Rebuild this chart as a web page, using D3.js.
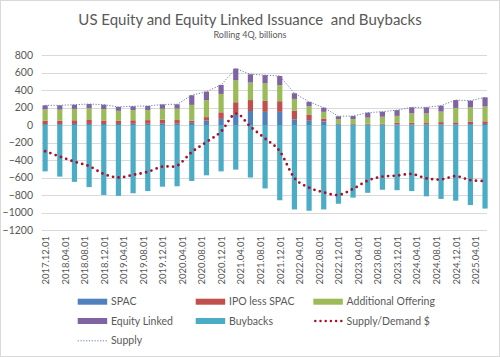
<!DOCTYPE html>
<html><head><meta charset="utf-8">
<script src="https://cdn.jsdelivr.net/npm/d3@7"></script>
<style>
html,body{margin:0;padding:0;background:#fff;}
svg{display:block;font-family:Lato, "Open Sans", sans-serif;}
</style></head>
<body><svg id="c" width="500" height="357"></svg>
<script>
// quarter-end months (rolling 4Q), Dec 2017 .. Jun 2025
const periods = ["2017-12","2018-03","2018-06","2018-09","2018-12","2019-03","2019-06","2019-09","2019-12","2020-03","2020-06","2020-09","2020-12","2021-03","2021-06","2021-09","2021-12","2022-03","2022-06","2022-09","2022-12","2023-03","2023-06","2023-09","2023-12","2024-03","2024-06","2024-09","2024-12","2025-03","2025-06"];
const spac       = [10,10,12,12,12,12,14,14,15,15,25,50,70,125,160,150,150,65,55,40,8,4,4,4,6,5,4,8,8,10,12];
const ipoLessSpac= [38,40,42,45,40,35,40,42,45,42,25,40,75,135,125,125,122,100,65,30,10,8,10,12,20,22,18,25,22,30,30];
const additional = [130,125,130,135,130,115,115,115,125,130,180,195,210,250,200,200,185,133,95,80,50,55,70,78,78,105,110,120,165,160,170];
const equityLinked=[47,50,48,48,50,45,45,47,50,50,110,96,103,135,95,95,103,65,50,48,32,36,57,58,66,70,70,68,90,78,104];
const buybacks   = [-530,-590,-650,-710,-800,-810,-780,-755,-705,-700,-640,-575,-530,-510,-600,-725,-860,-965,-980,-965,-900,-830,-775,-740,-745,-755,-815,-845,-865,-915,-955];
const supply     = [225,225,232,240,232,207,214,218,235,237,340,381,458,645,580,570,560,363,265,198,100,103,141,152,170,202,202,221,285,278,316];
const supplyDemand=[-300,-360,-420,-470,-560,-600,-570,-535,-475,-465,-310,-195,-75,130,-20,-155,-300,-605,-715,-770,-800,-730,-635,-590,-578,-560,-610,-622,-585,-630,-640];
const tickLabels = ["2017.12.01","2018.04.01","2018.08.01","2018.12.01","2019.04.01","2019.08.01","2019.12.01","2020.04.01","2020.08.01","2020.12.01","2021.04.01","2021.08.01","2021.12.01","2022.04.01","2022.08.01","2022.12.01","2023.04.01","2023.08.01","2023.12.01","2024.04.01","2024.08.01","2024.12.01","2025.04.01"];
const yTicks = [800,600,400,200,0,-200,-400,-600,-800,-1000,-1200];

const keys = ["SPAC","IPO less SPAC","Additional Offering","Equity Linked","Buybacks"];
const colors = {"SPAC":"#4f81bd","IPO less SPAC":"#c0504d","Additional Offering":"#9bbb59","Equity Linked":"#8064a2","Buybacks":"#4bacc6"};
const textCol = "#595959";

const monthIdx = s => { const [y,m] = s.split(/[-.]/).map(Number); return (y-2017)*12 + (m-12); };
const rows = periods.map((p,i)=>({m:monthIdx(p),"SPAC":spac[i],"IPO less SPAC":ipoLessSpac[i],"Additional Offering":additional[i],"Equity Linked":equityLinked[i],"Buybacks":buybacks[i],supply:supply[i],sd:supplyDemand[i]}));

const svg = d3.select("#c");
svg.append("rect").attr("x",0.5).attr("y",0.5).attr("width",499).attr("height",356).attr("fill","#fff").attr("stroke","#d9d9d9");

const x = d3.scaleLinear().domain([-0.7,90.4]).range([41.7,487]);
const y = d3.scaleLinear().domain([-1200,800]).range([230,55]);

// title
svg.append("text").attr("x",250).attr("y",25).attr("text-anchor","middle").attr("fill",textCol)
  .style("font-size","15px").style("white-space","pre").text("US Equity and Equity Linked Issuance  and Buybacks");
svg.append("text").attr("x",250).attr("y",37.5).attr("text-anchor","middle").attr("fill",textCol)
  .style("font-size","9px").text("Rolling 4Q, billions");

// gridlines
svg.append("g").selectAll("line").data(yTicks).join("line")
  .attr("x1",41.7).attr("x2",487).attr("y1",d=>Math.round(y(d))+0.5).attr("y2",d=>Math.round(y(d))+0.5)
  .attr("stroke","#d9d9d9").attr("stroke-width",1);

// y axis labels
const yAxis = d3.axisLeft(y).tickValues(yTicks).tickSize(0).tickPadding(0).tickFormat(d3.format("d"));
const gy = svg.append("g").attr("transform","translate(33,0)").call(yAxis);
gy.select(".domain").remove();
gy.selectAll("text").attr("fill",textCol).style("font-size","10.5px").style("font-family","Lato, sans-serif");

// bars
const stack = d3.stack().keys(keys).offset(d3.stackOffsetDiverging);
const series = stack(rows);
const bw = 5.2;
svg.append("g").selectAll("g").data(series).join("g").attr("fill",s=>colors[s.key])
  .selectAll("rect").data(s=>s).join("rect")
  .attr("x",d=>x(d.data.m)-bw/2).attr("width",bw)
  .attr("y",d=>y(Math.max(d[0],d[1]))).attr("height",d=>Math.abs(y(d[0])-y(d[1])));

// supply line
svg.append("path").datum(rows).attr("fill","none").attr("stroke","#6f7fae").attr("stroke-width",1)
  .attr("stroke-dasharray","1.2,1.6")
  .attr("d",d3.line().x(d=>x(d.m)).y(d=>y(d.supply)));

// supply/demand line
svg.append("path").datum(rows).attr("fill","none").attr("stroke","#a8102a").attr("stroke-width",2.8)
  .attr("stroke-linecap","round").attr("stroke-dasharray","0,5.6")
  .attr("d",d3.line().curve(d3.curveCatmullRom.alpha(0)).x(d=>x(d.m)).y(d=>y(d.sd)));

// x axis labels (every 4 months)
const xAxis = d3.axisBottom(x).tickValues(tickLabels.map(monthIdx)).tickSize(0).tickPadding(0)
  .tickFormat((d,i)=>tickLabels[i]);
const gx = svg.append("g").attr("transform","translate(0,236)").call(xAxis);
gx.select(".domain").remove();
gx.selectAll("text").attr("fill",textCol).style("font-size","9.5px").style("font-family","Lato, sans-serif")
  .attr("transform","rotate(-90)").attr("text-anchor","end").attr("x",0).attr("y",0).attr("dy","0.35em");

// legend
const legendItems = [
  {name:"SPAC",type:"bar",col:0,row:0},{name:"IPO less SPAC",type:"bar",col:1,row:0},{name:"Additional Offering",type:"bar",col:2,row:0},
  {name:"Equity Linked",type:"bar",col:0,row:1},{name:"Buybacks",type:"bar",col:1,row:1},{name:"Supply/Demand $",type:"sd",col:2,row:1},
  {name:"Supply",type:"supply",col:0,row:2}];
const colX = [77.7,195.7,313.3], rowY = [301.7,321,340.3];
const lg = svg.append("g");
legendItems.forEach(it=>{
  const gx0 = colX[it.col], gy0 = rowY[it.row];
  if(it.type==="bar"){
    lg.append("rect").attr("x",gx0).attr("y",gy0-3).attr("width",29.5).attr("height",6).attr("fill",colors[it.name]);
  } else if(it.type==="sd"){
    lg.append("line").attr("x1",gx0+2).attr("x2",gx0+29).attr("y1",gy0).attr("y2",gy0)
      .attr("stroke","#a8102a").attr("stroke-width",2.5).attr("stroke-linecap","round").attr("stroke-dasharray","0,5.2");
  } else {
    lg.append("line").attr("x1",gx0).attr("x2",gx0+29.5).attr("y1",gy0+0.5).attr("y2",gy0+0.5)
      .attr("stroke","#6f7fae").attr("stroke-width",1).attr("stroke-dasharray","1.2,1.6");
  }
  lg.append("text").attr("x",gx0+33.3).attr("y",gy0).attr("dy","0.35em").attr("fill",textCol)
    .style("font-size","10.5px").text(it.name);
});
</script>
</body></html>
